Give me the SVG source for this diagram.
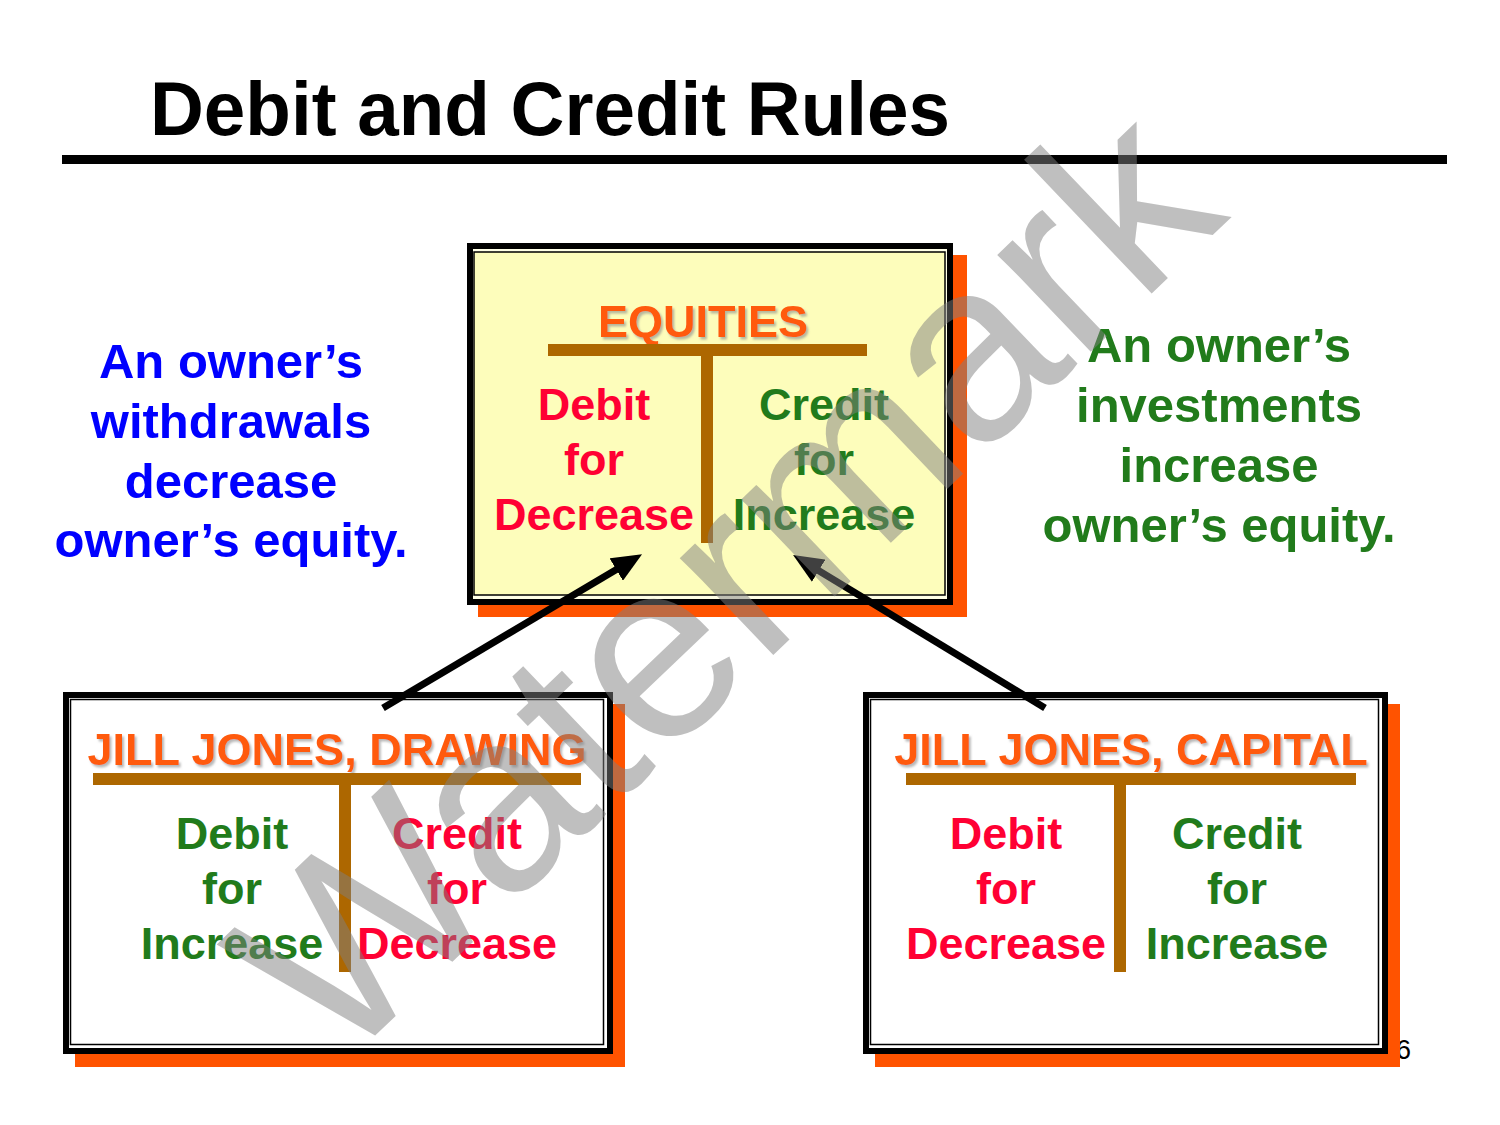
<svg xmlns="http://www.w3.org/2000/svg" width="1500" height="1125" viewBox="0 0 1500 1125">
<defs>
<style>
.t{font-family:"Liberation Sans",Arial,Helvetica,sans-serif;font-weight:bold;text-anchor:middle}
.ttl{font-size:45px;fill:#FF5A0A;filter:url(#ds)}
.b{font-size:45px}
.red{fill:#FF0033}
.grn{fill:#217B1B}
.side{font-size:49px}
.bar{fill:#AD6700}
.frame{fill:none;stroke:#000;stroke-width:6}
.thin{fill:none;stroke:#000;stroke-width:1.5}
.shadow{fill:#FF5300}
.conn{stroke:#000;stroke-width:7;fill:none}
</style>
<filter id="ds" x="-5%" y="-20%" width="110%" height="150%">
<feDropShadow dx="2" dy="2.5" stdDeviation="1" flood-color="#888" flood-opacity="0.6"/>
</filter>
<marker id="ah" markerUnits="userSpaceOnUse" markerWidth="30" markerHeight="26" refX="9" refY="13" orient="auto" viewBox="0 0 30 26">
<path d="M0,0 L30,13 L0,26 Z" fill="#000"/>
</marker>
</defs>
<rect width="1500" height="1125" fill="#fff"/>

<g id="title">
<text class="t" x="550" y="135" font-size="76" fill="#000" textLength="800" lengthAdjust="spacingAndGlyphs">Debit and Credit Rules</text>
<rect x="62" y="155" width="1385" height="9" fill="#000"/>
</g>

<g id="page-number">
<text x="1396" y="1059" font-family="'Liberation Sans',Arial,sans-serif" font-size="27" fill="#000">6</text>
</g>

<g id="withdrawals-note" class="t side" fill="#0000FF">
<text x="231" y="378">An owner’s</text>
<text x="231" y="438">withdrawals</text>
<text x="231" y="498">decrease</text>
<text x="231" y="557">owner’s equity.</text>
</g>

<g id="investments-note" class="t side grn">
<text x="1219" y="362">An owner’s</text>
<text x="1219" y="422">investments</text>
<text x="1219" y="482">increase</text>
<text x="1219" y="542">owner’s equity.</text>
</g>

<g id="equities">
<rect class="shadow" x="478" y="255" width="489" height="362"/>
<rect x="467" y="243" width="486" height="362" fill="#FFFFE6"/>
<rect x="474" y="252" width="471" height="343" fill="#FDFDBB"/>
<rect class="frame" x="470" y="246" width="480" height="356"/>
<rect class="thin" x="474" y="252" width="471" height="343"/>
<text class="t ttl" x="703" y="337">EQUITIES</text>
<rect class="bar" x="548" y="344" width="319" height="12"/>
<rect class="bar" x="701" y="356" width="12" height="187"/>
<g class="t b red">
<text x="594" y="420">Debit</text>
<text x="594" y="475">for</text>
<text x="594" y="530">Decrease</text>
</g>
<g class="t b grn">
<text x="824" y="420">Credit</text>
<text x="824" y="475">for</text>
<text x="824" y="530">Increase</text>
</g>
</g>

<g id="drawing">
<rect class="shadow" x="75" y="704" width="550" height="363"/>
<rect x="63" y="692" width="550" height="362" fill="#fff"/>
<rect class="frame" x="66" y="695" width="544" height="356"/>
<rect class="thin" x="70.5" y="699.5" width="533" height="345"/>
<text class="t ttl" x="337" y="765">JILL JONES, DRAWING</text>
<rect class="bar" x="93" y="773" width="488" height="12"/>
<rect class="bar" x="339" y="785" width="12" height="187"/>
<g class="t b grn">
<text x="232" y="849">Debit</text>
<text x="232" y="904">for</text>
<text x="232" y="959">Increase</text>
</g>
<g class="t b red">
<text x="457" y="849">Credit</text>
<text x="457" y="904">for</text>
<text x="457" y="959">Decrease</text>
</g>
</g>

<g id="capital">
<rect class="shadow" x="875" y="704" width="525" height="363"/>
<rect x="863" y="692" width="525" height="362" fill="#fff"/>
<rect class="frame" x="866" y="695" width="519" height="356"/>
<rect class="thin" x="870.5" y="699.5" width="508" height="345"/>
<text class="t ttl" x="1131" y="765">JILL JONES, CAPITAL</text>
<rect class="bar" x="906" y="773" width="450" height="12"/>
<rect class="bar" x="1114" y="785" width="12" height="187"/>
<g class="t b red">
<text x="1006" y="849">Debit</text>
<text x="1006" y="904">for</text>
<text x="1006" y="959">Decrease</text>
</g>
<g class="t b grn">
<text x="1237" y="849">Credit</text>
<text x="1237" y="904">for</text>
<text x="1237" y="959">Increase</text>
</g>
</g>

<g id="connectors">
<line class="conn" x1="383" y1="708" x2="624" y2="565" marker-end="url(#ah)"/>
<line class="conn" x1="1045" y1="708" x2="811" y2="566" marker-end="url(#ah)"/>
</g>

<g id="watermark">
<text transform="translate(337,1072) rotate(-43.7)" x="0" y="0" font-family="'Liberation Sans',Arial,sans-serif" font-size="255" fill="#808080" fill-opacity="0.5">Watermark</text>
</g>
</svg>
